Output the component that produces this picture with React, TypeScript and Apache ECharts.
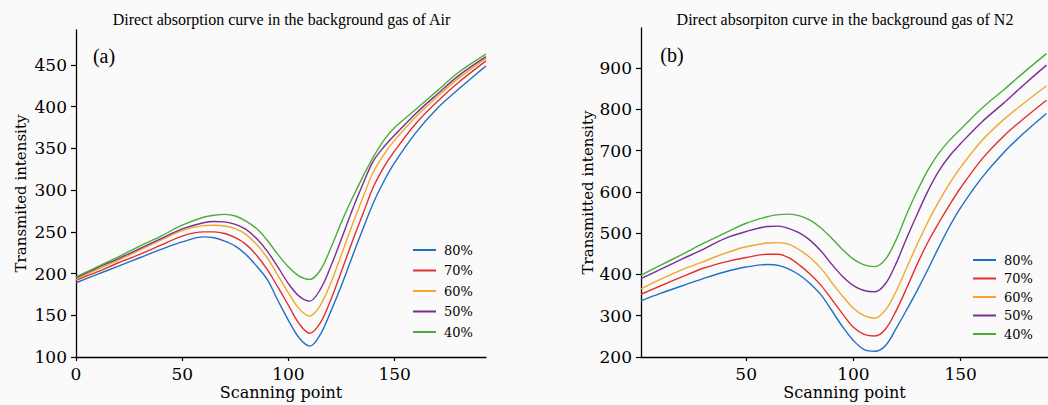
import React, { useEffect, useRef } from "react";
import * as echarts from "echarts";

// ---- Panel (a): background gas Air ----
const airX = [0, 10, 20, 30, 40, 50, 60, 65, 70, 75, 80, 85, 90, 95, 100, 105, 110, 115, 120, 125, 130, 135, 140, 145, 150, 160, 170, 180, 193];
const air80 = [189, 199, 209, 219, 229, 238, 244, 243, 239, 233, 223, 209, 193, 168, 144, 123, 113, 127, 155, 186, 220, 253, 285, 311, 333, 369, 398, 421, 449];
const air70 = [192, 202, 213, 223, 234, 245, 250, 250, 248, 243, 235, 222, 205, 184, 162, 140, 128.5, 141, 169, 203, 238, 271, 304, 328, 347, 380, 406, 429, 455];
const air60 = [193, 205, 216, 228, 240, 251.5, 257.5, 258, 257, 254, 247, 235, 219, 198, 177, 158, 149, 162, 189, 223, 258, 291, 322, 343, 360, 388, 412, 434, 458];
const air50 = [195, 207, 218, 230, 242, 253.5, 261, 262.5, 262, 259, 253, 242, 227, 208, 188, 173, 167, 181, 209, 242, 276, 307, 335, 352, 366, 392, 415, 437, 460];
const air40 = [196, 208, 220, 233, 245, 258, 267.5, 270, 271, 269, 263, 254, 240, 223, 208, 197, 193, 204, 231, 262, 290, 316, 340, 360, 375, 397, 419, 441, 463];

// ---- Panel (b): background gas N2 ----
const n2X = [1, 10, 20, 30, 40, 50, 60, 65, 70, 75, 80, 85, 90, 95, 100, 105, 110, 115, 120, 125, 130, 135, 140, 145, 150, 160, 170, 180, 190];
const n2_80 = [336, 354, 372, 390, 406, 418, 424, 422, 413, 398, 377, 350, 312, 273, 240, 218, 214, 228, 270, 316, 364, 415, 468, 518, 562, 635, 695, 745, 790];
const n2_70 = [352, 372, 394, 415, 430, 441, 449, 449, 440, 422, 400, 373, 339, 304, 272, 255, 251, 268, 313, 369, 428, 481, 527, 570, 610, 680, 735, 780, 822];
const n2_60 = [365, 388, 411, 431, 451, 467, 476, 477, 473, 459, 440, 414, 380, 347, 318, 300, 294, 314, 360, 418, 476, 530, 578, 622, 660, 725, 775, 817, 857];
const n2_50 = [390, 412, 437, 461, 487, 504, 516, 517, 511, 500, 482, 456, 424, 395, 373, 361, 358, 378, 428, 490, 549, 605, 652, 688, 717, 770, 815, 862, 907];
const n2_40 = [398, 422, 448, 475, 500, 524, 540, 545, 546, 542, 531, 512, 487, 460, 437, 423, 419, 437, 485, 548, 605, 655, 695, 726, 752, 803, 847, 892, 935];

const seriesNames = ["80%", "70%", "60%", "50%", "40%"];
const colors = ["#1f6fc4", "#e3302d", "#f2a62a", "#7a2f94", "#4bad3a"];

const titleA = "Direct absorption curve in the background gas of Air";
const titleB = "Direct absorpiton curve in the background gas of N2";
const xName = "Scanning point";
const yNameA = "Transmited intensity";
const yNameB = "Transmitted intensity";

const xTicksA = [0, 50, 100, 150];
const xTicksB = [50, 100, 150];
const yTicksA = [100, 150, 200, 250, 300, 350, 400, 450];
const yTicksB = [200, 300, 400, 500, 600, 700, 800, 900];

const GFONT = "Liberation Serif";
const FONT = "DejaVu Serif";

function zip(xs: number[], ys: number[]) {
  return xs.map((x, i) => [x, ys[i]]);
}

function xAxisCfg(grid: number, min: number, max: number, ticks: number[]) {
  return {
    type: "value",
    gridIndex: grid,
    min,
    max,
    axisLine: { show: true, onZero: false, lineStyle: { color: "#000", width: 1.3 } },
    axisTick: { show: true, customValues: ticks, length: 4, lineStyle: { color: "#000", width: 1.2 } },
    axisLabel: { customValues: ticks, fontFamily: FONT, fontSize: 17, color: "#000", margin: 8 },
    splitLine: { show: false },
    name: xName,
    nameLocation: "middle",
    nameMoveOverlap: false,
    nameGap: 27,
    nameTextStyle: { fontFamily: FONT, fontSize: 16, color: "#000" },
  };
}

function yAxisCfg(grid: number, min: number, max: number, ticks: number[], name: string, gap: number) {
  return {
    type: "value",
    gridIndex: grid,
    min,
    max,
    axisLine: { show: true, onZero: false, lineStyle: { color: "#000", width: 1.3 } },
    axisTick: { show: true, customValues: ticks, length: 5, lineStyle: { color: "#000", width: 1.2 } },
    axisLabel: { customValues: ticks, fontFamily: FONT, fontSize: 17, color: "#000", margin: 9 },
    splitLine: { show: false },
    name,
    nameLocation: "middle",
    nameMoveOverlap: false,
    nameGap: gap,
    nameRotate: 90,
    nameTextStyle: { fontFamily: FONT, fontSize: 15, color: "#000" },
  };
}

export default function App() {
  const ref = useRef<HTMLDivElement>(null);
  useEffect(() => {
    document.body.style.margin = "0";
    const chart = echarts.init(ref.current!, null, { renderer: "svg" });
    const airSets = [air80, air70, air60, air50, air40];
    const n2Sets = [n2_80, n2_70, n2_60, n2_50, n2_40];
    const series: any[] = [];
    airSets.forEach((ys, i) => {
      series.push({
        type: "line",
        name: seriesNames[i],
        xAxisIndex: 0,
        yAxisIndex: 0,
        data: zip(airX, ys),
        smooth: 0.35,
        symbol: "none",
        lineStyle: { width: 1.4, color: colors[i] },
        itemStyle: { color: colors[i] },
      });
    });
    n2Sets.forEach((ys, i) => {
      series.push({
        type: "line",
        name: seriesNames[i],
        xAxisIndex: 1,
        yAxisIndex: 1,
        data: zip(n2X, ys),
        smooth: 0.35,
        symbol: "none",
        lineStyle: { width: 1.4, color: colors[i] },
        itemStyle: { color: colors[i] },
      });
    });
    const legendText = { fontFamily: FONT, fontSize: 13, color: "#000", lineHeight: 16, padding: [0, 0, 0, 3] };
    chart.setOption({
      animation: false,
      backgroundColor: "#fafafa",
      grid: [
        { left: 76, top: 30, width: 410, height: 327, outerBoundsMode: "none", containLabel: false },
        { left: 641, top: 28, width: 407, height: 329, outerBoundsMode: "none", containLabel: false },
      ],
      xAxis: [xAxisCfg(0, 0, 193, xTicksA), xAxisCfg(1, 1, 190.7, xTicksB)],
      yAxis: [
        yAxisCfg(0, 100, 492, yTicksA, yNameA, 48),
        yAxisCfg(1, 200, 997, yTicksB, yNameB, 46),
      ],
      legend: [
        {
          data: seriesNames,
          orient: "vertical",
          left: 413,
          top: 242,
          icon: "rect",
          itemWidth: 23,
          itemHeight: 2,
          itemGap: 4.5,
          padding: 0,
          textStyle: legendText,
          selectedMode: false,
        },
        {
          data: seriesNames,
          orient: "vertical",
          left: 973,
          top: 252,
          icon: "rect",
          itemWidth: 23,
          itemHeight: 2,
          itemGap: 2.5,
          padding: 0,
          textStyle: legendText,
          selectedMode: false,
        },
      ],
      graphic: [
        { type: "text", x: 281.5, y: 19, style: { text: titleA, font: `16px ${GFONT}`, fill: "#000", align: "center", verticalAlign: "middle" } },
        { type: "text", x: 845, y: 19, style: { text: titleB, font: `16px ${GFONT}`, fill: "#000", align: "center", verticalAlign: "middle" } },
        { type: "text", x: 104, y: 56, style: { text: "(a)", font: `20px ${GFONT}`, fill: "#000", align: "center", verticalAlign: "middle" } },
        { type: "text", x: 672, y: 55, style: { text: "(b)", font: `20px ${GFONT}`, fill: "#000", align: "center", verticalAlign: "middle" } },
      ],
      series,
    });
    return () => chart.dispose();
  }, []);
  return <div ref={ref} style={{ width: 1048, height: 405 }} />;
}
